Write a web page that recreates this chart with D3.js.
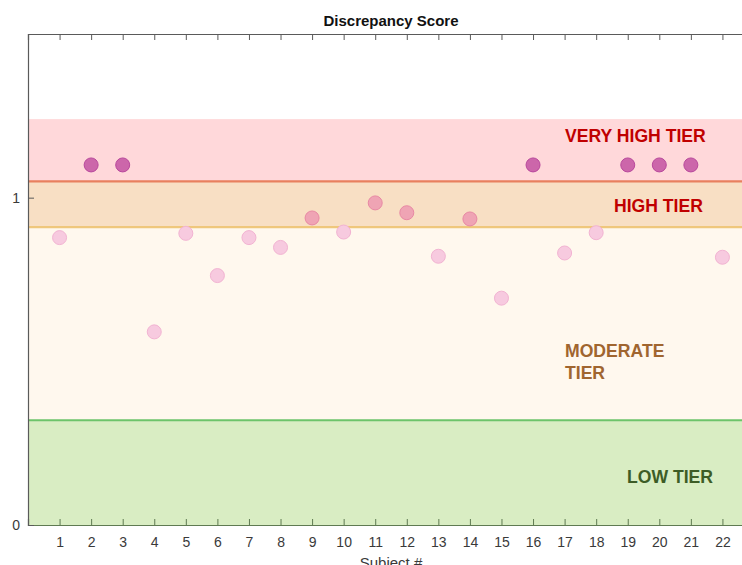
<!DOCTYPE html>
<html>
<head>
<meta charset="utf-8">
<script src="https://cdn.jsdelivr.net/npm/d3@7"></script>
<style>
  body { margin: 0; background: #fff; }
  text { font-family: "Liberation Sans", Arial, sans-serif; }
</style>
</head>
<body>
<div id="chart"></div>
<script>
const w = 742;
const h = 565;

// data
const subjects = [1, 2, 3, 4, 5, 6, 7, 8, 9, 10, 11, 12, 13, 14, 15, 16, 17, 18, 19, 20, 21, 22];
const scores = [0.878, 1.10, 1.10, 0.590, 0.891, 0.762, 0.878, 0.848, 0.938, 0.895, 0.984,
                0.954, 0.821, 0.935, 0.693, 1.10, 0.831, 0.893, 1.10, 1.10, 1.10, 0.818];
const tierNames = ["LOW TIER", "MODERATE TIER", "HIGH TIER", "VERY HIGH TIER"];
const tierBounds = [0, 0.32, 0.91, 1.05, 1.24];
const yTicks = [0, 1];

// styles
const bandColors = ["#d9edc3", "#fff8ee", "#f8dfc4", "#ffd8da"];
const lineColors = ["#6dc46a", "#efc77c", "#e8805f", null];
const labelColors = ["#3d5c26", "#a0652f", "#c00000", "#c00000"];
const dotFill = ["#f7cadf", "#f7cadf", "#efa4b4", "#cc66aa"];
const dotStroke = ["#f2b3d2", "#f2b3d2", "#e888a4", "#b8489c"];

const pLeft = 28, pRight = 754, pTop = 34, pBottom = 525;

const x = d3.scaleLinear().domain([0, 23]).range([pLeft, pRight]);
const y = d3.scaleLinear().domain([0, 1.5]).range([pBottom, pTop]);

const svg = d3.select("#chart").append("svg").attr("width", w).attr("height", h);

function tierOf(v) {
    let t = 0;
    for (let i = 1; i < tierBounds.length - 1; i++) {
        if (v > tierBounds[i]) t = i;
    }
    return t;
}

// bands
const bands = tierNames.map((n, i) => ({name: n, lo: tierBounds[i], hi: tierBounds[i + 1], i: i}));
svg.selectAll("rect.band").data(bands).enter().append("rect")
    .attr("class", "band")
    .attr("x", pLeft)
    .attr("width", pRight - pLeft)
    .attr("y", d => y(d.hi))
    .attr("height", d => y(d.lo) - y(d.hi))
    .attr("fill", d => bandColors[d.i]);

// tier boundary lines
svg.selectAll("line.tier").data(bands.filter(d => lineColors[d.i])).enter().append("line")
    .attr("class", "tier")
    .attr("x1", pLeft).attr("x2", pRight)
    .attr("y1", d => y(d.hi)).attr("y2", d => y(d.hi))
    .attr("stroke", d => lineColors[d.i])
    .attr("stroke-width", 2.2);

// axes
const xAxis = d3.axisBottom(x).tickValues(subjects).tickSize(-6).tickPadding(12).tickFormat(d3.format("d"));
const gx = svg.append("g").attr("transform", "translate(0," + pBottom + ")").call(xAxis);
const xTop = d3.axisTop(x).tickValues(subjects).tickSize(-6).tickFormat("");
const gxt = svg.append("g").attr("transform", "translate(0," + pTop + ")").call(xTop);
const yAxis = d3.axisLeft(y).tickValues(yTicks).tickSize(-6).tickPadding(8).tickFormat(d3.format("d"));
const gy = svg.append("g").attr("transform", "translate(" + pLeft + ",0)").call(yAxis);

[gx, gxt, gy].forEach(g => {
    g.select(".domain").attr("stroke", "#5a5a5a").attr("stroke-width", 1.2);
    g.selectAll(".tick line").attr("stroke", "#5a5a5a");
    g.selectAll(".tick text")
        .attr("fill", "#3a3a3a")
        .style("font-size", "14px")
        .style("font-family", "'Liberation Sans', Arial, sans-serif");
});
gx.select(".domain").attr("stroke", "#5f7a52");
gx.selectAll(".tick line").attr("stroke", "#5f7a52");

// points
svg.selectAll("circle").data(scores).enter().append("circle")
    .attr("cx", (d, i) => x(subjects[i]))
    .attr("cy", d => y(d))
    .attr("r", 7)
    .attr("fill", d => dotFill[tierOf(d)])
    .attr("stroke", d => dotStroke[tierOf(d)])
    .attr("stroke-width", 1);

// tier labels
const labelPos = [
    {x: 627, y: 483, lines: ["LOW TIER"]},
    {x: 565, y: 357, lines: ["MODERATE", "TIER"]},
    {x: 614, y: 212, lines: ["HIGH TIER"]},
    {x: 565, y: 142, lines: ["VERY HIGH TIER"]}
];
labelPos.forEach((p, i) => {
    const t = svg.append("text")
        .attr("x", p.x).attr("y", p.y)
        .attr("fill", labelColors[i])
        .style("font-size", "17.6px")
        .style("font-weight", "bold");
    p.lines.forEach((l, k) => {
        t.append("tspan").attr("x", p.x).attr("dy", k === 0 ? 0 : 21.5).text(l);
    });
});

// title and axis label
svg.append("text")
    .attr("x", (pLeft + pRight) / 2)
    .attr("y", 26)
    .attr("text-anchor", "middle")
    .style("font-size", "15px")
    .style("font-weight", "bold")
    .attr("fill", "#111")
    .text("Discrepancy Score");

svg.append("text")
    .attr("x", (pLeft + pRight) / 2)
    .attr("y", 568)
    .attr("text-anchor", "middle")
    .style("font-size", "15px")
    .attr("fill", "#3a3a3a")
    .text("Subject #");
</script>
</body>
</html>
